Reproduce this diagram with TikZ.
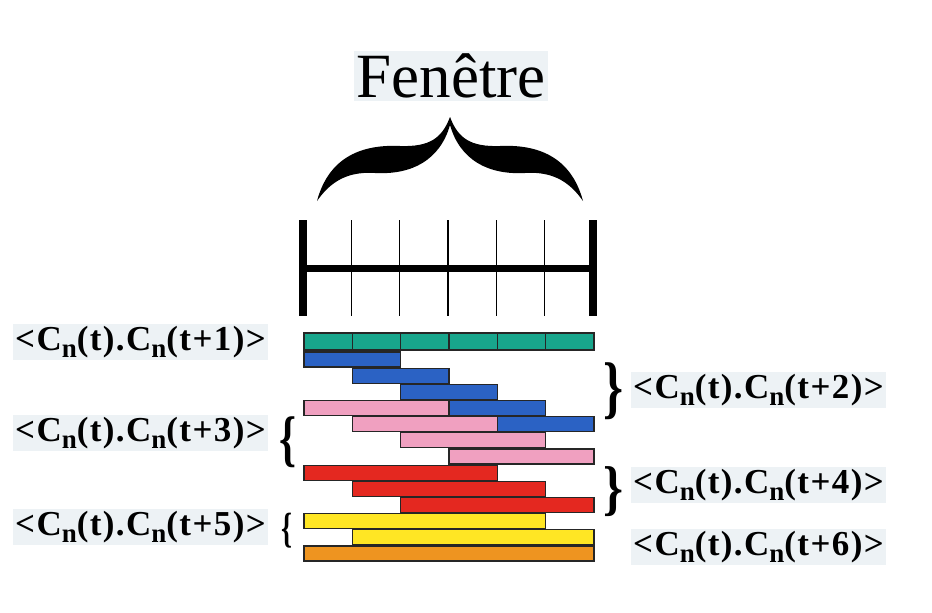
\documentclass[tikz,border=0pt]{standalone}
\usepackage{fontspec}
\setmainfont{Liberation Serif}
\usepackage{graphicx}
\usepackage{xcolor}
\usetikzlibrary{positioning}

\definecolor{halo}{RGB}{237,242,245}
\definecolor{lagone}{RGB}{24,166,140}
\definecolor{lagtwo}{RGB}{43,98,196}
\definecolor{lagthree}{RGB}{240,160,192}
\definecolor{lagfour}{RGB}{228,40,32}
\definecolor{lagfive}{RGB}{255,230,36}
\definecolor{lagsix}{RGB}{238,148,32}

\newcommand{\labfont}{\fontsize{35}{35}\selectfont\bfseries\addfontfeatures{LetterSpace=4}}
\newcommand{\Cn}{C\raisebox{-7pt}{\fontsize{27}{27}\selectfont n}}
\newcommand{\corr}[1]{<\Cn(t).\Cn(t+#1)>}

\begin{document}
\begin{tikzpicture}[x=1pt, y=-1pt,
    bar/.style={draw=black!85, line width=1.2pt},
    lab/.style={font=\labfont, fill=halo, inner sep=2pt},
    tick/.style={line width=1.5pt},
    endtick/.style={line width=7.5pt}]
  \useasboundingbox (0,0) rectangle (932,613);
  \fill[white] (0,0) rectangle (932,613);

  % Window title and brace
  \node[font=\fontsize{63}{63}\selectfont, fill=halo, inner sep=3pt] (title) at (451,76) {Fenêtre};
  \foreach \s in {1,-1}
    \fill[shift={(450,0)}, xscale=\s] (0,117)
      .. controls (-8,138) and (-20,147) .. (-50,146)
      .. controls (-92,144) and (-122,160) .. (-133,201)
      .. controls (-121,184) and (-105,171) .. (-75,173)
      .. controls (-38,175) and (-10,160) .. (0,125) -- cycle;

  % Ruler
  \coordinate (r0) at (303,268);
  \coordinate (r6) at (593,268);
  \draw[line width=7pt] (r0) -- (r6);
  \foreach \k in {1,...,5}
    \draw[tick] ({303+48.33*\k},220) -- ++(0,96);
  \foreach \k in {0,6}
    \draw[endtick] ({303+48.33*\k},220) -- ++(0,96);

  % Lag 1 (segmented)
  \foreach \k in {0,...,5}
    \draw[bar, fill=lagone] ({304+48.33*\k},333) rectangle ++(48.33,17);

  % Lags 2 to 6
  \foreach \row/\a/\b/\col in {1/0/2/lagtwo, 2/1/3/lagtwo, 3/2/4/lagtwo,
      4/0/3/lagthree, 4/3/5/lagtwo, 5/1/4/lagthree, 5/4/6/lagtwo,
      6/2/5/lagthree, 7/3/6/lagthree,
      8/0/4/lagfour, 9/1/5/lagfour, 10/2/6/lagfour,
      11/0/5/lagfive, 12/1/6/lagfive, 13/0/6/lagsix}
    \draw[bar, fill=\col] ({304+48.33*\a},{352+16.17*(\row-1)})
      rectangle ({304+48.33*\b},{367+16.17*(\row-1)});

  % Braces
  \node[inner sep=0pt] (br2) at (613,391) {\resizebox*{20pt}{57pt}{\bfseries\}}};
  \node[inner sep=0pt] (br3) at (288,442) {\resizebox*{17pt}{51pt}{\bfseries\{}};
  \node[inner sep=0pt] (br4) at (613,492) {\resizebox*{20pt}{50pt}{\bfseries\}}};
  \node[inner sep=0pt] (br5) at (287,531) {\resizebox*{11pt}{35pt}{\bfseries\{}};

  % Labels
  \node[lab, anchor=east] (lab1) at (268,342) {\corr{1}};
  \node[lab, anchor=west] (lab2) at (631,390) {\corr{2}};
  \node[lab, anchor=east] (lab3) at (268,433) {\corr{3}};
  \node[lab, anchor=west] (lab4) at (631,485) {\corr{4}};
  \node[lab, anchor=east] (lab5) at (268,527) {\corr{5}};
  \node[lab, anchor=west] (lab6) at (631,547) {\corr{6}};
\end{tikzpicture}
\end{document}
